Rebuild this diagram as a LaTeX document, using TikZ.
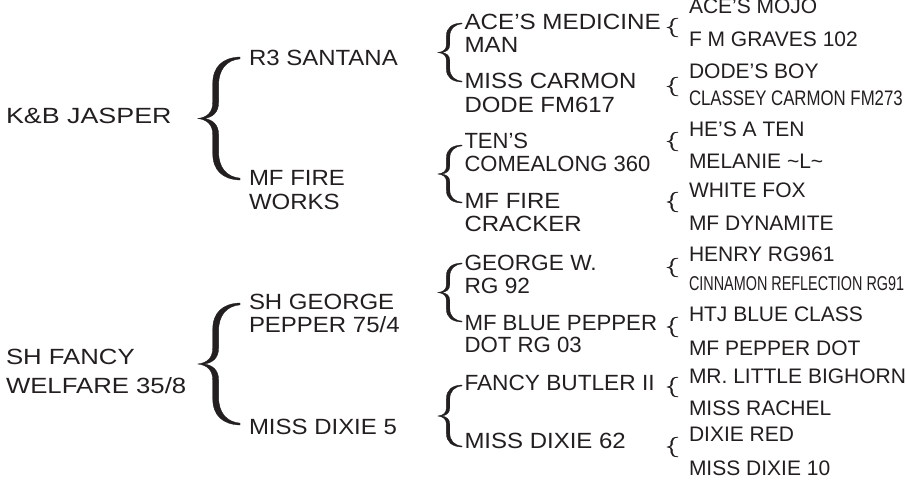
\documentclass[tikz,border=0pt]{standalone}
\usepackage{fontspec}
\setmainfont{Liberation Sans}
\definecolor{ink}{HTML}{231F20}
\newcommand\sx[1]{\addfontfeatures{FakeStretch=#1}}
\newcommand\two[3]{\vtop{\baselineskip=#1pt\hbox{#2}\hbox{#3}}}
\newcommand\brc[4]{%
  \filldraw[ink, line width=0.35pt, shift={(#1,#2)}, xscale=#3, yscale=#4]
    (1,0) .. controls (0.58,0.005) and (0.35,0.08) .. (0.35,0.22)
    -- (0.35,0.37) .. controls (0.35,0.45) and (0.22,0.49) .. (0,0.5)
    .. controls (0.22,0.51) and (0.35,0.55) .. (0.35,0.63)
    -- (0.35,0.78) .. controls (0.35,0.92) and (0.58,0.995) .. (1,1)
    -- (1,0.985) .. controls (0.68,0.975) and (0.49,0.9) .. (0.49,0.77)
    -- (0.49,0.63) .. controls (0.49,0.55) and (0.35,0.51) .. (0.15,0.5)
    .. controls (0.35,0.49) and (0.49,0.45) .. (0.49,0.37)
    -- (0.49,0.23) .. controls (0.49,0.1) and (0.68,0.025) .. (1,0.015)
    -- cycle;}
\tikzset{
  nm/.style={anchor=base west, inner sep=0pt, outer sep=0pt, text=ink,
    font=\fontsize{22}{24}\selectfont},
  rt/.style={nm, font=\fontsize{21}{23}\selectfont},
}
\begin{document}
\begin{tikzpicture}[x=1pt,y=-1pt]
\fill[white] (0,0) rectangle (906,480);
\useasboundingbox (0,0) rectangle (906,480);
% generation 1
\node[nm] (kb) at (6,123.3) {\sx{1.22}K\&B JASPER};
\node[nm] (shf) at (6,364) {\sx{1.17}\two{29}{SH FANCY}{WELFARE 35/8}};
% big braces
\brc{198}{57}{42}{123}
\brc{198}{303}{42}{122}
% generation 2
\node[nm] (r3) at (249,65.7) {\sx{1.09}R3 SANTANA};
\node[nm] (mfw) at (249,185) {\sx{1.09}\two{24}{MF FIRE}{WORKS}};
\node[nm] (shg) at (249,309.3) {\sx{1.09}\two{23.4}{SH GEORGE}{PEPPER 75/4}};
\node[nm] (md5) at (249,434) {\sx{1.09}MISS DIXIE 5};
% middle braces
\brc{438}{23}{24}{59}
\brc{438}{145}{24}{58}
\brc{438}{263}{24}{59}
\brc{438}{385}{24}{62}
% generation 3
\node[nm] (ace) at (464.5,29.3) {\sx{1.10}\two{23}{ACE’S MEDICINE}{MAN}};
\node[nm] (mcd) at (464.5,88.3) {\sx{1.09}\two{24.4}{MISS CARMON}{DODE FM617}};
\node[nm] (ten) at (464.5,148.3) {\sx{1.0}\two{23.4}{TEN’S}{COMEALONG 360}};
\node[nm] (mfc) at (464.5,208.3) {\sx{1.09}\two{23.4}{MF FIRE}{CRACKER}};
\node[nm] (geo) at (464.5,270.7) {\sx{1.03}\two{22.6}{GEORGE W.}{RG 92}};
\node[nm] (mbp) at (464.5,330) {\sx{1.01}\two{22.7}{MF BLUE PEPPER}{DOT RG 03}};
\node[nm] (fb) at (464.5,390) {\sx{1.03}FANCY BUTLER II};
\node[nm] (md62) at (464.5,448.3) {\sx{1.09}MISS DIXIE 62};
% small braces
\brc{667}{18}{11}{19}
\brc{667}{77}{11}{19}
\brc{667}{132}{11}{19}
\brc{667}{192}{11}{20}
\brc{667}{258}{11}{19}
\brc{667}{317}{11}{20}
\brc{667}{377}{11}{20}
\brc{667}{437}{11}{20}
% generation 4
\node[rt] (g1) at (689,13) {ACE’S MOJO};
\node[rt] (g2) at (689,46) {F M GRAVES 102};
\node[rt] (g3) at (689,78) {DODE’S BOY};
\node[rt] (g4) at (689,105) {\sx{0.8}CLASSEY CARMON FM273};
\node[rt] (g5) at (689,136) {HE’S A TEN};
\node[rt] (g6) at (689,168) {MELANIE \textasciitilde L\textasciitilde};
\node[rt] (g7) at (689,197.5) {WHITE FOX};
\node[rt] (g8) at (689,230) {MF DYNAMITE};
\node[rt] (g9) at (689,261.7) {HENRY RG961};
\node[rt, font=\fontsize{20}{22}\selectfont] (g10) at (689,290) {\sx{0.72}CINNAMON REFLECTION RG91};
\node[rt] (g11) at (689,321.7) {HTJ BLUE CLASS};
\node[rt] (g12) at (689,355) {MF PEPPER DOT};
\node[rt] (g13) at (689,383.3) {MR. LITTLE BIGHORN};
\node[rt] (g14) at (689,415) {MISS RACHEL};
\node[rt] (g15) at (689,441.7) {DIXIE RED};
\node[rt] (g16) at (689,475) {MISS DIXIE 10};
\end{tikzpicture}
\end{document}
